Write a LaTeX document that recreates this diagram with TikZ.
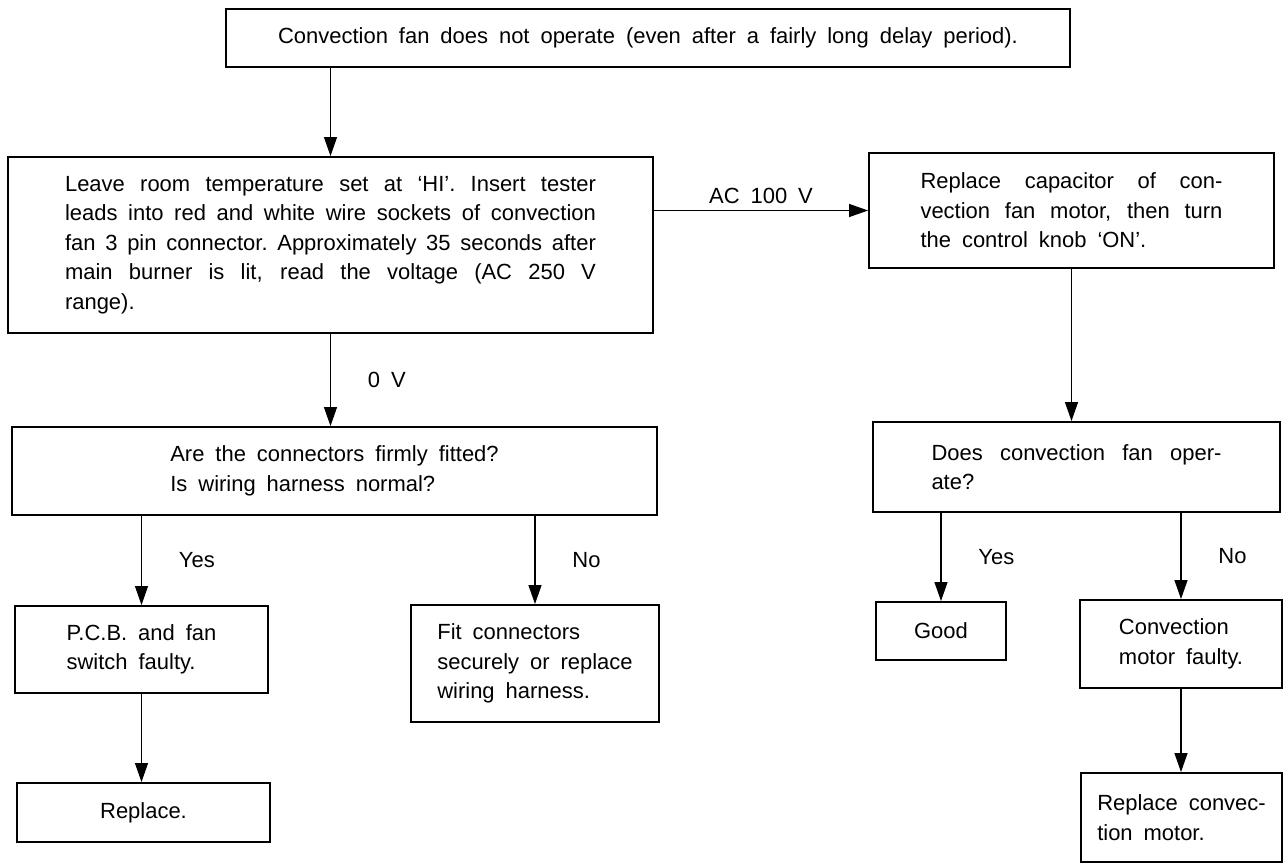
\documentclass[tikz,border=0pt]{standalone}
\usepackage{fontspec}
\setmainfont{Liberation Sans}
\usepackage{tikz}
\usetikzlibrary{arrows.meta}
\newcommand{\chartfont}{\fontsize{12.5}{16.8}\selectfont\spaceskip=0.5em plus 0.6em minus 0.15em\relax\xspaceskip=\spaceskip}

\begin{document}
\begin{tikzpicture}[x=0.02cm,y=-0.02cm,
    every node/.style={font=\chartfont},
    box/.style={draw,line width=1.1pt,inner sep=0pt},
    arr/.style={line width=0.7pt,-{Triangle[length=3.8mm,width=2.6mm]}},
    lbl/.style={midway,right=0.62cm}]
\useasboundingbox (0,0) rectangle (1286,865);
\begin{scope}[every node/.append style={box}]
    \node[minimum width=16.9cm,minimum height=1.16cm] (start) at (648,38) {Convection fan does not operate (even after a fairly long delay period).};
    \node[minimum width=12.9cm,minimum height=3.52cm,text width=10.62cm,align=justify] (check) at (330.5,245)
        {Leave room temperature set at `HI'. Insert tester\linebreak leads into red and white wire sockets of convection\linebreak fan 3 pin connector. Approximately 35 seconds after\linebreak main burner is lit, read the voltage (AC 250 V\linebreak range).};
    \node[minimum width=8.1cm,minimum height=2.3cm,text width=6.04cm,align=justify] (cap) at (1071.5,210.5)
        {Replace capacitor of con-\linebreak vection fan motor, then turn\linebreak the control knob `ON'.};
    \node[minimum width=12.9cm,minimum height=1.76cm,align=left] (conn) at (334.5,471)
        {Are the connectors firmly fitted?\\Is wiring harness normal?};
    \node[minimum width=8.14cm,minimum height=1.8cm,text width=5.8cm,align=justify] (fanq) at (1076.5,467)
        {Does convection fan oper-\linebreak ate?};
    \node[minimum width=5.06cm,minimum height=1.74cm,align=left] (pcb) at (141.5,649.5) {P.C.B. and fan\\switch faulty.};
    \node[minimum width=4.96cm,minimum height=2.34cm,align=left] (fit) at (535,663.5) {Fit connectors\\securely or replace\\wiring harness.};
    \node[minimum width=2.6cm,minimum height=1.16cm] (good) at (941,631) {Good};
    \node[minimum width=4.04cm,minimum height=1.76cm,align=left] (motor) at (1181,644) {Convection\\motor faulty.};
    \node[minimum width=5.06cm,minimum height=1.18cm] (fix) at (143.5,812.5) {Replace.};
    \node[minimum width=4.02cm,minimum height=1.78cm,align=left] (newmotor) at (1181.5,817.5) {Replace convec-\\tion motor.};
\end{scope}
    % main path
    \draw[arr] (start.south -| check.north) -- (check.north);
    \draw[arr] (check.east |- cap.west) -- (cap.west) node[midway,above] {AC 100 V};
    \draw[arr] (check.south) -- (check.south |- conn.north) node[lbl] {0 V};
    \draw[arr] (cap.south) -- (cap.south |- fanq.north);
    % answers
    \draw[arr] (pcb.north |- conn.south) -- (pcb.north) node[lbl] {Yes};
    \draw[arr] (fit.north |- conn.south) -- (fit.north) node[lbl] {No};
    \draw[arr] (good.north |- fanq.south) -- (good.north) node[lbl] {Yes};
    \draw[arr] (motor.north |- fanq.south) -- (motor.north) node[lbl] {No};
    \draw[arr] (pcb.south) -- (pcb.south |- fix.north);
    \draw[arr] (motor.south) -- (motor.south |- newmotor.north);
\end{tikzpicture}
\end{document}
